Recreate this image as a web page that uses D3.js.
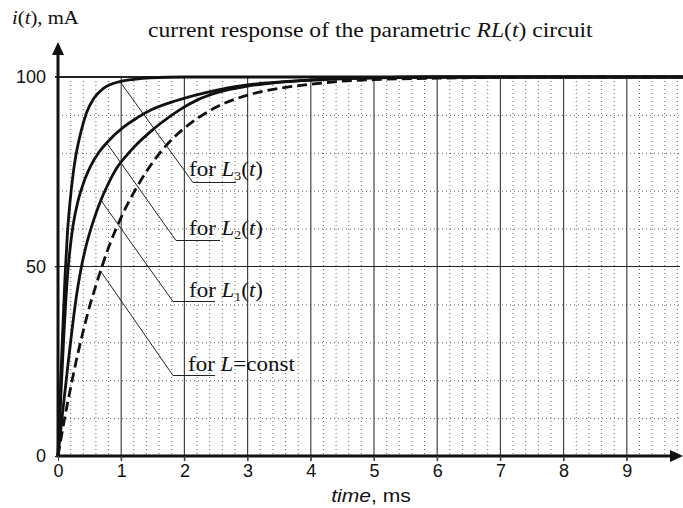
<!DOCTYPE html>
<html>
<head>
<meta charset="utf-8">
<script src="https://cdn.jsdelivr.net/npm/d3@7"></script>
<style>
  body { margin: 0; background: #fff; }
  text { fill: #111; }
</style>
</head>
<body>
<svg width="683" height="508"></svg>
<script>
// values (time in ms, current in mA)
var timeL3 = [0, 0.03, 0.06, 0.11, 0.15, 0.19, 0.24, 0.28, 0.37, 0.45, 0.56, 0.72, 0.98, 1.2, 1.46, 2, 10];
var currL3 = [0, 14, 27, 47, 59, 67, 74.5, 79, 86, 90.5, 94.2, 97, 98.8, 99.4, 99.8, 100, 100];

var timeL2 = [0, 0.04, 0.09, 0.12, 0.16, 0.2, 0.24, 0.32, 0.42, 0.51, 0.65, 0.78, 1.03, 1.25, 1.46, 1.88, 2.5, 3, 4, 5, 6, 10];
var currL2 = [0, 14, 31, 40, 49.5, 56, 61, 67.5, 72.8, 76.3, 80.2, 82.8, 86.7, 89.2, 91.2, 93.8, 96.5, 97.9, 99.2, 99.8, 100, 100];

var timeL1 = [0, 0.07, 0.15, 0.22, 0.29, 0.36, 0.45, 0.55, 0.65, 0.8, 0.93, 1.1, 1.25, 1.45, 1.61, 1.93, 2.2, 2.5, 3, 3.5, 4, 5, 6, 10];
var currL1 = [0, 11, 23, 33, 42, 49, 55.8, 61.5, 66.3, 72, 76, 79.6, 82.3, 85.4, 87.6, 91.4, 93.9, 95.8, 97.6, 98.6, 99.2, 99.8, 100, 100];

var timeConst = [0, 0.1, 0.2, 0.3, 0.4, 0.5, 0.6, 0.8, 1, 1.25, 1.5, 1.77, 2, 2.5, 3, 3.5, 4, 4.5, 5, 6, 7, 8, 10];
var currConst = [0, 9.5, 18, 26, 33, 39.5, 45, 55, 63, 71, 77.5, 83, 86.5, 92, 95.2, 97, 98.1, 98.9, 99.3, 99.7, 99.9, 100, 100];

var xTicks = [0, 1, 2, 3, 4, 5, 6, 7, 8, 9];
var yTicks = [0, 50, 100];
var seriesNames = ["L3", "L2", "L1", "const"];
var labelSubs = ["3", "2", "1", null];
var labelTimes = [0.98, 0.77, 0.68, 0.675];   // where each leader touches its curve

var svg = d3.select("svg");
var x = d3.scaleLinear().domain([0, 10]).range([58, 690]);
var y = d3.scaleLinear().domain([0, 100]).range([456, 77]);
var xRight = 680;
var serif = "Liberation Serif, Times New Roman, serif";
var sans = "Liberation Sans, Arial, sans-serif";

function pairs(ts, vs) {
  return ts.map(function(t, i) { return { t: t, v: vs[i] }; });
}
var series = {
  L3: pairs(timeL3, currL3),
  L2: pairs(timeL2, currL2),
  L1: pairs(timeL1, currL1),
  "const": pairs(timeConst, currConst)
};

// grid
var grid = svg.append("g");
var minorX = d3.range(1, 50).map(function(k) { return k / 5; }).filter(function(t) { return Math.abs(t - Math.round(t)) > 1e-6; });
grid.selectAll(".minx").data(minorX).enter().append("line")
  .attr("x1", function(d) { return x(d); }).attr("x2", function(d) { return x(d); })
  .attr("y1", y(100)).attr("y2", y(0))
  .attr("stroke", "#666").attr("stroke-width", 1).attr("stroke-dasharray", "1,3");
var minorY = d3.range(10, 100, 10).filter(function(v) { return v !== 50; });
grid.selectAll(".miny").data(minorY).enter().append("line")
  .attr("x1", x(0)).attr("x2", xRight)
  .attr("y1", function(d) { return y(d) + 0.5; }).attr("y2", function(d) { return y(d) + 0.5; })
  .attr("stroke", "#666").attr("stroke-width", 1).attr("stroke-dasharray", "1,3");
grid.selectAll(".majx").data(xTicks.slice(1)).enter().append("line")
  .attr("x1", function(d) { return x(d); }).attr("x2", function(d) { return x(d); })
  .attr("y1", y(100)).attr("y2", y(0) + 5)
  .attr("stroke", "#444").attr("stroke-width", 1.2);
grid.selectAll(".majy").data([50, 100]).enter().append("line")
  .attr("x1", x(0) - 3).attr("x2", xRight)
  .attr("y1", function(d) { return y(d); }).attr("y2", function(d) { return y(d); })
  .attr("stroke", "#222").attr("stroke-width", function(d) { return d === 100 ? 1.8 : 1.2; });

// curves
var line = d3.line()
  .x(function(d) { return x(d.t); })
  .y(function(d) { return y(d.v); })
  .curve(d3.curveMonotoneX);
seriesNames.forEach(function(name) {
  svg.append("path")
    .attr("d", line(series[name]))
    .attr("fill", "none")
    .attr("stroke", "#111")
    .attr("stroke-width", 2.8)
    .attr("stroke-dasharray", name === "const" ? "10,5" : null);
});

// axes
svg.append("line").attr("x1", x(0)).attr("x2", 672).attr("y1", y(0)).attr("y2", y(0))
  .attr("stroke", "#111").attr("stroke-width", 3);
svg.append("path").attr("d", "M683," + y(0) + "L670," + (y(0) - 6) + "L670," + (y(0) + 6) + "Z").attr("fill", "#111");
svg.append("line").attr("x1", x(0)).attr("x2", x(0)).attr("y1", y(0) + 1.5).attr("y2", 54)
  .attr("stroke", "#111").attr("stroke-width", 3);
svg.append("path").attr("d", "M" + x(0) + ",42L" + (x(0) - 6) + ",55L" + (x(0) + 6) + ",55Z").attr("fill", "#111");

var gx = svg.append("g").attr("transform", "translate(0," + y(0) + ")")
  .call(d3.axisBottom(x).tickValues(xTicks).tickSize(5).tickPadding(3).tickFormat(d3.format("d")));
gx.select(".domain").remove();
gx.selectAll("line").attr("stroke", "#444");
gx.selectAll("text").attr("font-family", sans).attr("font-size", 18).attr("fill", "#222");

var gy = svg.append("g").attr("transform", "translate(" + x(0) + ",0)")
  .call(d3.axisLeft(y).tickValues(yTicks).tickSize(3).tickPadding(9));
gy.select(".domain").remove();
gy.selectAll("line").attr("stroke", "#222");
gy.selectAll("text").attr("font-family", sans).attr("font-size", 18).attr("fill", "#222");

// text helper: the lettering in the picture runs a bit wide, so stretch it horizontally
function stretched(px, py, sx, size, family) {
  return svg.append("text")
    .attr("transform", "translate(" + px + "," + py + ") scale(" + sx + ",1)")
    .attr("font-family", family).attr("font-size", size);
}

var yl = stretched(12, 24, 1.09, 19, serif);
yl.append("tspan").attr("font-style", "italic").text("i");
yl.append("tspan").text("(");
yl.append("tspan").attr("font-style", "italic").text("t");
yl.append("tspan").text("), mA");

var xl = stretched(371, 502, 1.11, 19, sans).attr("text-anchor", "middle");
xl.append("tspan").attr("font-style", "italic").text("time");
xl.append("tspan").text(", ms");

var title = stretched(148, 37, 1.125, 21, serif);
title.append("tspan").text("current response of the parametric ");
title.append("tspan").attr("font-style", "italic").text("RL");
title.append("tspan").text("(");
title.append("tspan").attr("font-style", "italic").text("t");
title.append("tspan").text(") circuit");

// curve labels with leader lines
var labelLayout = [
  { ux: 193, uy: 182.5, uw: 43, tx: 189, ty: 176 },
  { ux: 176, uy: 240.5, uw: 44, tx: 189, ty: 235 },
  { ux: 173, uy: 301.5, uw: 42, tx: 189, ty: 297 },
  { ux: 173, uy: 375.5, uw: 42, tx: 188, ty: 371 }
];
function valueAt(data, t) {
  var i = d3.bisector(function(d) { return d.t; }).left(data, t);
  var a = data[i - 1], b = data[i];
  return a.v + (b.v - a.v) * (t - a.t) / (b.t - a.t);
}
seriesNames.forEach(function(name, k) {
  var p = labelLayout[k];
  var t = labelTimes[k];
  svg.append("path")
    .attr("d", "M" + x(t) + "," + y(valueAt(series[name], t)) + "L" + p.ux + "," + p.uy + "H" + (p.ux + p.uw))
    .attr("fill", "none").attr("stroke", "#222").attr("stroke-width", 1);
  var lab = stretched(p.tx, p.ty, 1.15, 20, serif);
  lab.append("tspan").text("for ");
  lab.append("tspan").attr("font-style", "italic").text("L");
  if (labelSubs[k]) {
    lab.append("tspan").attr("font-size", 12).attr("dy", 4).text(labelSubs[k]);
    lab.append("tspan").attr("dy", -4).text("(");
    lab.append("tspan").attr("font-style", "italic").text("t");
    lab.append("tspan").text(")");
  } else {
    lab.append("tspan").text("=const");
  }
});
</script>
</body>
</html>
